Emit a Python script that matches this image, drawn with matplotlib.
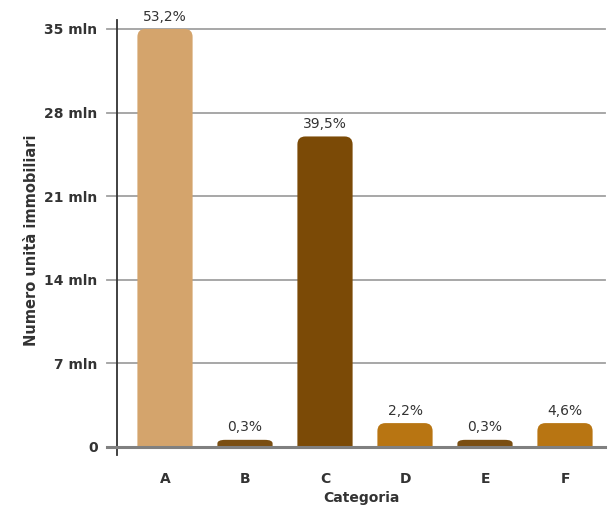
import matplotlib.pyplot as plt
from matplotlib.patches import PathPatch
from matplotlib.path import Path

# data
categories = ['A', 'B', 'C', 'D', 'E', 'F']
values_mln = [35.0, 0.6, 26.0, 2.0, 0.6, 2.0]
pct_labels = ['53,2%', '0,3%', '39,5%', '2,2%', '0,3%', '4,6%']
yticks = [0, 7, 14, 21, 28, 35]
ytick_labels = ['0', '7 mln', '14 mln', '21 mln', '28 mln', '35 mln']

bar_colors = ['#d4a46c', '#7a4e12', '#7b4a06', '#b87512', '#7a4e12', '#b87512']
FONT = ['DejaVu Sans']
TXT = '#333333'

plt.rcParams['font.family'] = FONT


def rounded_top_bar(x, h, w, rx, ry):
    """bar path with only the two top corners rounded"""
    ry = min(ry, h / 2)
    x0, x1 = x - w / 2, x + w / 2
    verts = [(x0, 0), (x0, h - ry), (x0, h), (x0 + rx, h),
             (x1 - rx, h), (x1, h), (x1, h - ry), (x1, 0), (x0, 0)]
    codes = [Path.MOVETO, Path.LINETO, Path.CURVE3, Path.CURVE3,
             Path.LINETO, Path.CURVE3, Path.CURVE3, Path.LINETO, Path.CLOSEPOLY]
    return Path(verts, codes)


fig = plt.figure(figsize=(6.08, 5.13), dpi=100)
ax = fig.add_axes([117 / 608, 58 / 513, 488 / 608, 435 / 513])
ax.set_xlim(-0.6, 5.5)
ax.set_ylim(-0.67, 35.75)

# gridlines (also act as tick marks left of the spine)
for t in yticks[1:]:
    ax.plot([-0.72, 5.5], [t, t], color='#a0a0a0', lw=1.3, clip_on=False, zorder=1)
ax.plot([-0.72, 5.5], [0, 0], color='#808080', lw=2.2, clip_on=False, zorder=3)

for i, (v, c) in enumerate(zip(values_mln, bar_colors)):
    ax.add_patch(PathPatch(rounded_top_bar(i, v, 0.69, 0.1, 0.67),
                           fc=c, ec='none', zorder=2))
    ax.text(i, v + 0.45, pct_labels[i], ha='center', va='bottom',
            fontsize=10, color=TXT)

ax.set_yticks(yticks)
ax.set_yticklabels(ytick_labels, fontsize=10, fontweight='bold', color=TXT)
ax.set_xticks(range(len(categories)))
ax.set_xticklabels(categories, fontsize=10, fontweight='bold', color=TXT)
ax.tick_params(axis='y', length=0, pad=14)
ax.tick_params(axis='x', length=0, pad=12)

for s in ['top', 'right', 'bottom']:
    ax.spines[s].set_visible(False)
ax.spines['left'].set_color('#333333')
ax.spines['left'].set_linewidth(1.3)

ax.set_xlabel('Categoria', fontsize=10, fontweight='bold', color=TXT, labelpad=4)
fig.text(32 / 608, 1 - 240 / 513, 'Numero unità immobiliari', rotation=90,
         ha='center', va='center', fontsize=10.5, fontweight='bold', color=TXT)

fig.savefig('out.png', dpi=100)
